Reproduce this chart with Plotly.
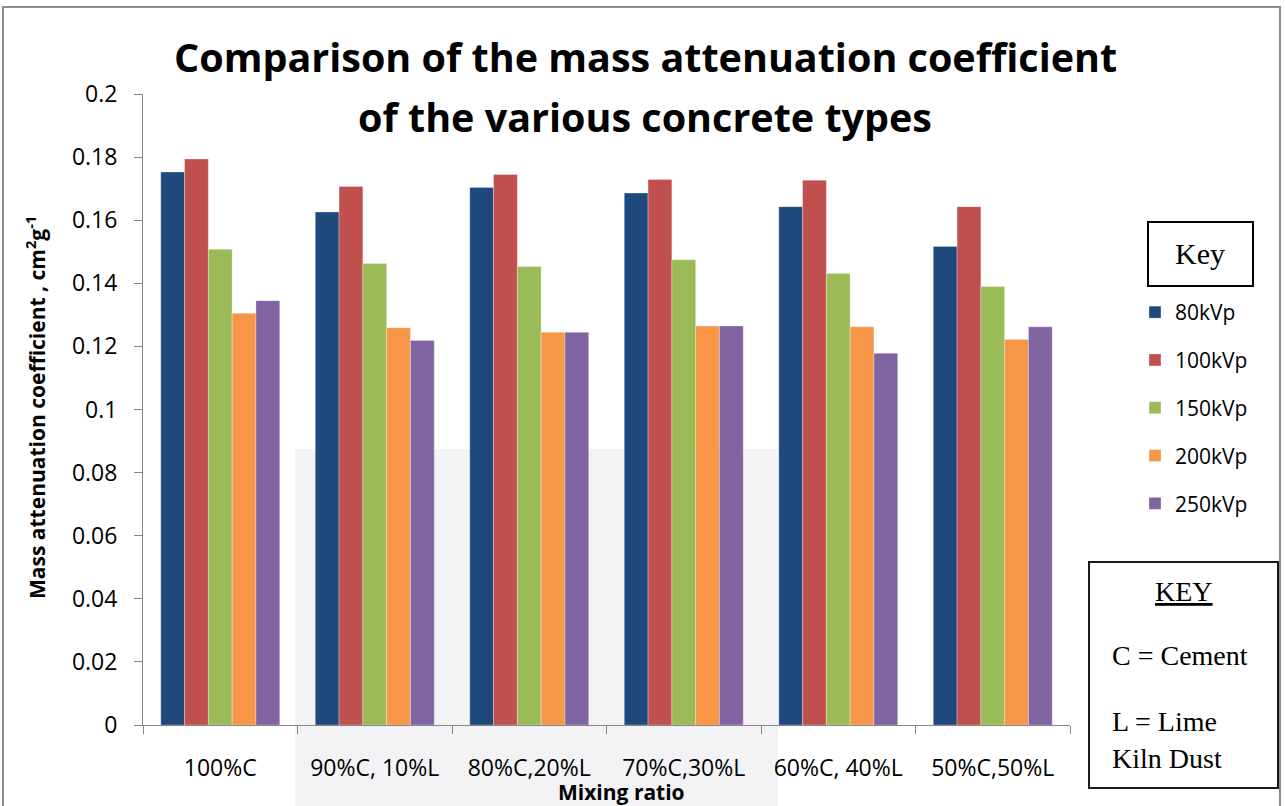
import plotly.graph_objects as go

# Mixing ratios (cement / lime kiln dust)
mixes = ["100%C", "90%C, 10%L", "80%C,20%L", "70%C,30%L", "60%C, 40%L", "50%C,50%L"]

# Mass attenuation coefficient (cm^2 g^-1) at each tube voltage
kvp_80 = [0.1753, 0.1626, 0.1704, 0.1686, 0.1643, 0.1517]
kvp_100 = [0.1794, 0.1707, 0.1745, 0.1729, 0.1727, 0.1643]
kvp_150 = [0.1508, 0.1463, 0.1453, 0.1475, 0.1431, 0.1390]
kvp_200 = [0.1305, 0.1259, 0.1245, 0.1265, 0.1262, 0.1222]
kvp_250 = [0.1345, 0.1219, 0.1245, 0.1265, 0.1178, 0.1262]

series_names = ["80kVp", "100kVp", "150kVp", "200kVp", "250kVp"]
series_values = [kvp_80, kvp_100, kvp_150, kvp_200, kvp_250]
series_colors = ["#1F497D", "#C0504D", "#9BBB59", "#F79646", "#8064A2"]

W, H = 1285, 806
L, R, T, B = 143, 215, 94, 81
PW, PH = W - L - R, H - T - B


def px(x):
    return (x - L) / PW


def py(y):
    return (H - B - y) / PH


fig = go.Figure()
for name, vals, col in zip(series_names, series_values, series_colors):
    fig.add_trace(go.Bar(
        x=mixes, y=vals, name=name, legendgroup=name,
        marker=dict(color=col, line=dict(color="rgba(255,255,255,0.5)", width=0.6)),
    ))

axis_grey = "#868686"

fig.update_layout(
    width=W, height=H,
    margin=dict(l=L, r=R, t=T, b=B),
    paper_bgcolor="white", plot_bgcolor="rgba(0,0,0,0)",
    barmode="group", bargap=0.23, bargroupgap=0,
    showlegend=True,
    legend=dict(
        x=px(1135), y=py(292), xanchor="left", yanchor="top",
        font=dict(family="Open Sans", size=21, color="#000000"),
        tracegroupgap=17.5, bgcolor="rgba(0,0,0,0)",
        itemclick=False,
    ),
    xaxis=dict(
        showline=True, linecolor=axis_grey, linewidth=1,
        ticks="outside", tickson="boundaries", ticklen=8, tickcolor=axis_grey,
        tickfont=dict(family="Open Sans", size=23, color="#000000"),
        ticklabelstandoff=22, showgrid=False,
    ),
    yaxis=dict(
        range=[0, 0.2], dtick=0.02, tickformat="~g",
        showline=True, linecolor=axis_grey, linewidth=1,
        ticks="outside", ticklen=8, tickcolor=axis_grey,
        tickfont=dict(family="Open Sans", size=23, color="#000000"),
        ticklabelstandoff=12, showgrid=False, zeroline=False,
    ),
)

shapes = [
    # outer chart-area border
    dict(type="rect", xref="paper", yref="paper",
         x0=px(3), x1=px(1280), y0=py(812), y1=py(7),
         line=dict(color="#8C8C8C", width=2), fillcolor="rgba(0,0,0,0)"),
    # faint background panel behind the middle groups
    dict(type="rect", xref="paper", yref="paper", layer="below",
         x0=px(295), x1=px(778), y0=py(806), y1=py(449),
         line=dict(width=0), fillcolor="rgba(120,120,160,0.09)"),
    # "Key" heading box
    dict(type="rect", xref="paper", yref="paper",
         x0=px(1148), x1=px(1253), y0=py(286), y1=py(222),
         line=dict(color="#000000", width=2), fillcolor="white"),
    # abbreviation key box
    dict(type="rect", xref="paper", yref="paper",
         x0=px(1089), x1=px(1278), y0=py(788), y1=py(562),
         line=dict(color="#1a1a1a", width=2), fillcolor="white"),
]
fig.update_layout(shapes=shapes)

serif = "Liberation Serif"
ann = [
    dict(text="<b>Comparison of the mass attenuation coefficient</b>",
         x=px(645), y=py(57), font=dict(family="Open Sans", size=39.5, color="#000")),
    dict(text="<b>of the various concrete types</b>",
         x=px(645), y=py(117), font=dict(family="Open Sans", size=39.5, color="#000")),
    dict(text="<b>Mass attenuation coefficient , cm<sup>2</sup>g<sup>-1</sup></b>",
         x=px(35), y=py(408), textangle=-90,
         font=dict(family="Open Sans", size=21, color="#000")),
    dict(text="<b>Mixing ratio</b>", x=px(621), y=py(792),
         font=dict(family="Open Sans", size=21, color="#000")),
    dict(text="Key", x=px(1200), y=py(253), font=dict(family=serif, size=30, color="#000")),
    dict(text="<u>KEY</u>", x=px(1184), y=py(591), font=dict(family=serif, size=28, color="#000")),
    dict(text="C = Cement", x=px(1110), y=py(655), xanchor="left",
         font=dict(family=serif, size=28, color="#000")),
    dict(text="L = Lime", x=px(1110), y=py(721), xanchor="left",
         font=dict(family=serif, size=28, color="#000")),
    dict(text="Kiln Dust", x=px(1110), y=py(758), xanchor="left",
         font=dict(family=serif, size=28, color="#000")),
]
for a in ann:
    a.setdefault("xanchor", "center")
    a.update(xref="paper", yref="paper", yanchor="middle", showarrow=False)
fig.update_layout(annotations=ann)

fig.write_html("out.html")
